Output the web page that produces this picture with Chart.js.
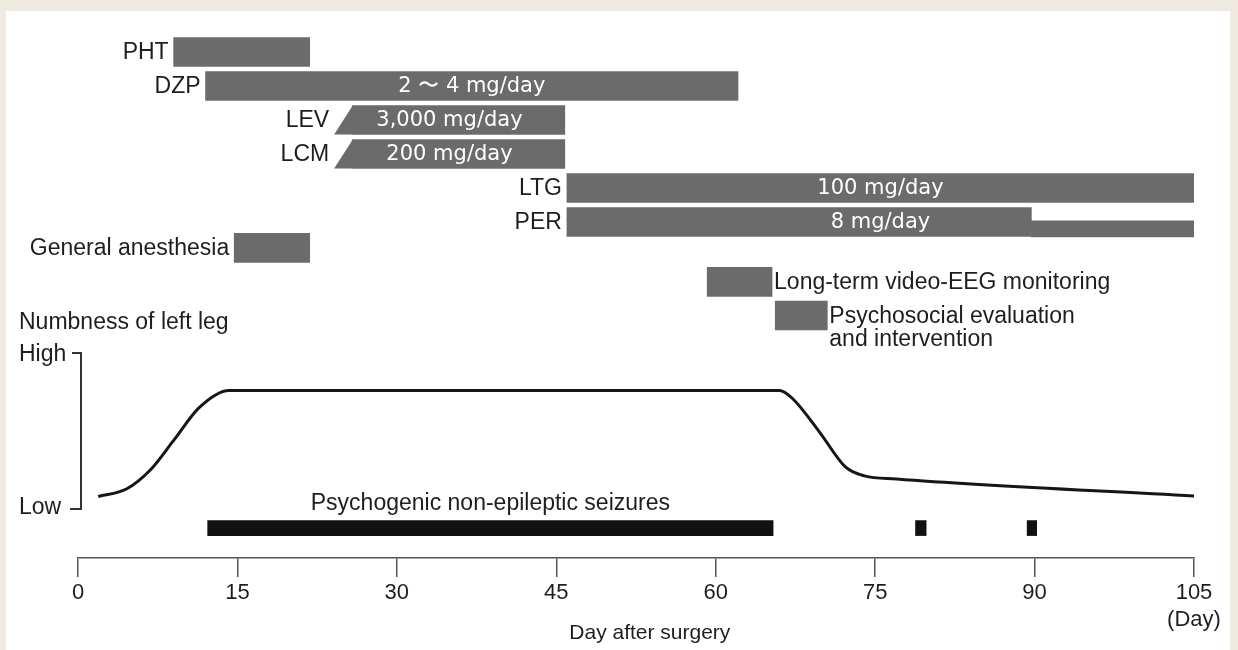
<!DOCTYPE html>
<html>
<head>
<meta charset="utf-8">
<title>Clinical course</title>
<script src="https://cdn.jsdelivr.net/npm/chart.js@4.4.1/dist/chart.umd.min.js"></script>
<style>
  body { margin: 0; background: #eeeadf; }
  #panel { position: absolute; left: 6px; top: 11px; width: 1224px; height: 639px; background: #fff; }
  #chart { position: absolute; left: 0; top: 0; }
</style>
</head>
<body>
<div id="panel"></div>
<canvas id="chart" width="1238" height="650"></canvas>
<script>
// treatment rows, in days after surgery
var rowNames = ['PHT', 'DZP', 'LEV', 'LCM', 'LTG', 'PER', 'General anesthesia'];
var rowStart = [9.0, 12.0, 25.8, 25.8, 46.0, 46.0, 14.7];
var rowEnd   = [21.8, 62.1, 45.8, 45.8, 105, 89.7, 21.8];
var rowTaper = [null, null, 24.1, 24.1, null, null, null]; // titration start
var rowDose  = ['', '2 〜 4 mg/day', '3,000 mg/day', '200 mg/day', '100 mg/day', '8 mg/day', ''];
var rowLane  = [1, 2, 3, 4, 5, 6, 6.76];

// PER reduced after ~day 90
var perTail = [89.7, 105];
var perTailLane = 6.2;

var eventNames = [['Long-term video-EEG monitoring'], ['Psychosocial evaluation', 'and intervention']];
var eventStart = [59.2, 65.6];
var eventEnd   = [65.3, 70.5];
var eventLane  = [7.76, 8.75];

var seizureLabel = 'Psychogenic non-epileptic seizures';
var seizureStart = [12.2, 78.8, 89.3];
var seizureEnd   = [65.4, 79.8, 90.2];
var seizureLane  = 15;

// numbness of left leg, 0 = low, 1 = high
var numbDays   = [1.9, 4.6, 6.8, 9.0, 11.4, 14.2, 66.0, 67.2, 69.8, 72.2, 74.0, 77.0, 105];
var numbValues = [0.08, 0.13, 0.25, 0.44, 0.65, 0.76, 0.76, 0.71, 0.49, 0.27, 0.212, 0.192, 0.083];
var numbLevels = ['Low', 'High'];

var dayTicks = [0, 15, 30, 45, 60, 75, 90, 105];

var barGrey = '#6b6b6b';
var textCol = '#1e1e1e';
var labelFont = '23px "Liberation Sans", Arial, sans-serif';

function laneData(starts, ends, lanes) {
    return starts.map(function(s, i) {
        return { x: [s, ends[i]], y: Array.isArray(lanes) ? lanes[i] : lanes };
    });
}

var annotations = {
    id: 'annotations',
    afterDatasetsDraw: function(chart) {
        var c = chart.ctx;
        var x = chart.scales.x, lane = chart.scales.lane, num = chart.scales.num;
        var rows = chart.getDatasetMeta(0).data;
        c.save();
        c.textBaseline = 'middle';

        rows.forEach(function(el, i) {
            var top = el.y - el.height / 2, bottom = el.y + el.height / 2;
            var left = rowStart[i];
            if (rowTaper[i] !== null) {
                c.fillStyle = barGrey;
                c.beginPath();
                c.moveTo(x.getPixelForValue(rowTaper[i]), bottom);
                c.lineTo(x.getPixelForValue(rowStart[i]) + 0.5, bottom);
                c.lineTo(x.getPixelForValue(rowStart[i]) + 0.5, top);
                c.closePath();
                c.fill();
                left = rowTaper[i];
            }
            c.fillStyle = textCol;
            c.font = labelFont;
            c.textAlign = 'right';
            c.fillText(rowNames[i], x.getPixelForValue(left) - 5, el.y + 1);
            if (rowDose[i]) {
                var right = rowNames[i] === 'PER' ? perTail[1] : rowEnd[i];
                c.fillStyle = '#fff';
                c.font = '21px "DejaVu Sans", sans-serif';
                c.textAlign = 'center';
                c.fillText(rowDose[i], x.getPixelForValue((left + right) / 2), el.y + 1);
            }
        });

        // event labels to the right of their bars
        c.fillStyle = textCol;
        c.font = labelFont;
        c.textAlign = 'left';
        eventNames.forEach(function(lines, i) {
            var px = x.getPixelForValue(eventEnd[i]) + 2;
            var py = lane.getPixelForValue(eventLane[i]) + 1;
            lines.forEach(function(t, k) { c.fillText(t, px, py + k * 23); });
        });

        // seizure label
        c.textAlign = 'center';
        c.fillText(seizureLabel, x.getPixelForValue((seizureStart[0] + seizureEnd[0]) / 2),
            lane.getPixelForValue(seizureLane) - 24);

        // numbness scale bracket
        var yHi = num.getPixelForValue(1), yLo = num.getPixelForValue(0);
        var bx = chart.chartArea.left + 3;
        c.strokeStyle = '#333';
        c.lineWidth = 2;
        c.beginPath();
        c.moveTo(bx - 9, yHi); c.lineTo(bx, yHi); c.lineTo(bx, yLo); c.lineTo(bx - 11, yLo);
        c.stroke();
        c.textAlign = 'left';
        c.fillText(numbLevels[1], 19, yHi + 2);
        c.fillText(numbLevels[0], 19, yLo - 1);
        c.fillText('Numbness of left leg', 19, yHi - 30);

        // x axis title, centred a little right of the axis middle as in the source
        c.font = '21px "Liberation Sans", Arial, sans-serif';
        c.textAlign = 'center';
        c.fillText('Day after surgery', x.getPixelForValue(53.8), 633);
        c.restore();
    }
};

var ctx = document.getElementById('chart');
var chart = new Chart(ctx, {
    type: 'bar',
    data: {
        datasets: [{
            label: 'rows',
            indexAxis: 'y',
            xAxisID: 'x',
            yAxisID: 'lane',
            data: laneData(rowStart, rowEnd, rowLane),
            backgroundColor: barGrey,
            barThickness: 29,
            grouped: false
        }, {
            label: 'PER tail',
            indexAxis: 'y',
            xAxisID: 'x',
            yAxisID: 'lane',
            data: laneData([perTail[0]], [perTail[1]], perTailLane),
            backgroundColor: barGrey,
            barThickness: 16,
            grouped: false
        }, {
            label: 'events',
            indexAxis: 'y',
            xAxisID: 'x',
            yAxisID: 'lane',
            data: laneData(eventStart, eventEnd, eventLane),
            backgroundColor: barGrey,
            barThickness: 29,
            grouped: false
        }, {
            label: 'seizures',
            indexAxis: 'y',
            xAxisID: 'x',
            yAxisID: 'lane',
            data: laneData(seizureStart, seizureEnd, seizureLane),
            backgroundColor: '#111',
            barThickness: 15,
            grouped: false
        }, {
            type: 'line',
            label: 'numbness',
            xAxisID: 'x',
            yAxisID: 'num',
            data: numbDays.map(function(d, i) { return { x: d, y: numbValues[i] }; }),
            borderColor: '#161616',
            borderWidth: 3,
            pointRadius: 0,
            fill: false,
            cubicInterpolationMode: 'monotone'
        }]
    },
    options: {
        responsive: false,
        animation: false,
        events: [],
        layout: { padding: { left: 78, right: 44, top: 18, bottom: 0 } },
        plugins: { legend: { display: false }, tooltip: { enabled: false } },
        scales: {
            x: {
                type: 'linear',
                position: 'bottom',
                min: 0,
                max: 105,
                offset: false,
                afterBuildTicks: function(scale) {
                    scale.ticks = dayTicks.map(function(v) { return { value: v }; });
                },
                afterFit: function(scale) { scale.height = 92; },
                grid: { offset: false, drawOnChartArea: false, drawTicks: true, tickLength: 19, color: '#555', lineWidth: 1.5 },
                border: { display: true, color: '#555', width: 1.5 },
                ticks: {
                    color: textCol,
                    font: { family: '"Liberation Sans", Arial, sans-serif', size: 22 },
                    padding: 3,
                    maxRotation: 0,
                    callback: function(v) { return v === 105 ? ['105', '(Day)'] : String(v); }
                }
            },
            lane: { type: 'linear', axis: 'y', display: false, offset: false, grid: { offset: false }, reverse: true, min: 0, max: 15.88 },
            num: { type: 'linear', axis: 'y', display: false, offset: false, min: -0.314, max: 3.147 }
        }
    },
    plugins: [annotations]
});
</script>
</body>
</html>
